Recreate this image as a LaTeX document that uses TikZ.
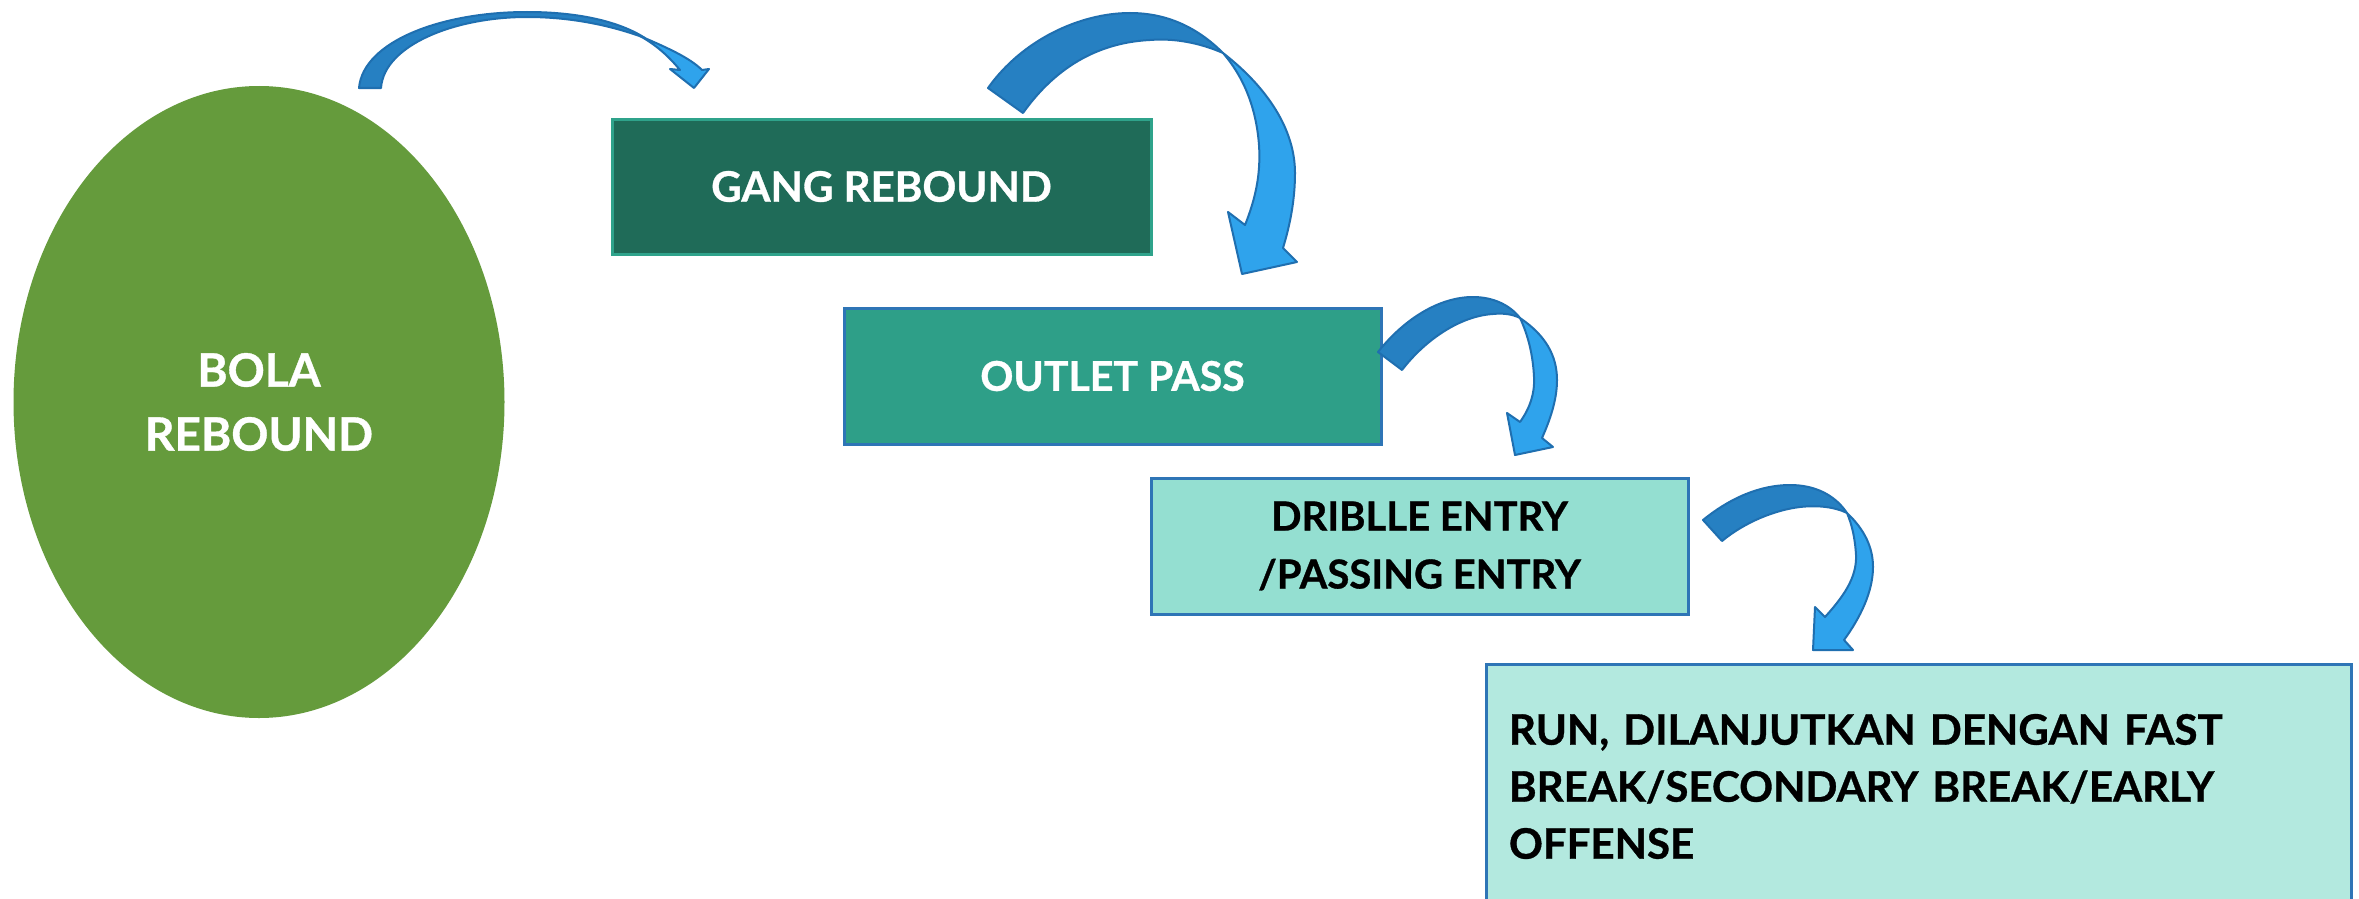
\documentclass[tikz,border=0pt]{standalone}
\usepackage{fontspec}
\setmainfont{Lato}[BoldFeatures={FakeBold=0.8}]
\usetikzlibrary{shapes.geometric}
\definecolor{ballgreen}{HTML}{659B3C}
\definecolor{gangfill}{HTML}{1F6B58}
\definecolor{gangborder}{HTML}{2FA38B}
\definecolor{outletfill}{HTML}{2E9F88}
\definecolor{boxblue}{HTML}{2E75B6}
\definecolor{dribfill}{HTML}{94DFD1}
\definecolor{runfill}{HTML}{B3E9DF}
\definecolor{arrdark}{HTML}{2680C2}
\definecolor{arrlight}{HTML}{2FA3EC}
\definecolor{arrline}{HTML}{1F6FB0}
\begin{document}
\begin{tikzpicture}[x=1pt,y=-1pt,
  stepbox/.style={rectangle, inner sep=0pt, line width=3pt, font=\fontsize{41}{58}\selectfont\bfseries, align=center},
  backband/.style={fill=arrdark, draw=arrline, line width=2pt, line join=round},
  frontband/.style={fill=arrlight, draw=arrline, line width=2pt, line join=round}]
\useasboundingbox (0,0) rectangle (2359,899);
\fill[white] (0,0) rectangle (2359,899);

\node[ellipse, fill=ballgreen, minimum width=491pt, minimum height=632pt, inner sep=0pt,
  text=white, align=center, font=\fontsize{46}{64}\selectfont\bfseries] (ball) at (259,402) {BOLA\\REBOUND};

\node[stepbox, fill=gangfill, draw=gangborder, text=white, minimum width=539pt, minimum height=135pt, font=\fontsize{42}{58}\selectfont\bfseries] (gang) at (881.5,186.5) {GANG REBOUND};
\node[stepbox, fill=outletfill, draw=boxblue, text=white, minimum width=537pt, minimum height=136pt] (outlet) at (1112.5,376) {OUTLET PASS};
\node[stepbox, fill=dribfill, draw=boxblue, text=black, minimum width=537pt, minimum height=136pt, font=\fontsize{40}{58}\selectfont\bfseries] (dribble) at (1419.5,546) {DRIBLLE ENTRY\\/PASSING ENTRY};
\node[stepbox, anchor=north west, fill=runfill, draw=boxblue, text=black, minimum width=865pt, minimum height=244pt,
  text width=820pt, align=left, font=\fontsize{42}{57}\selectfont\bfseries] (run) at (1485,663)
  {RUN, DILANJUTKAN DENGAN FAST\\BREAK/SECONDARY BREAK/EARLY\\OFFENSE};

% arrow 1: ball -> gang
\draw[backband] (359,88) .. controls (363,42) and (440,12) .. (527,12) .. controls (580,12) and (620,22) .. (645,38)
  .. controls (610,25) and (570,17) .. (527,17) .. controls (455,17) and (384,45) .. (381,88) -- cycle;
\draw[frontband] (640,36) .. controls (668,48) and (690,58) .. (702,70) -- (709,69) -- (694,88) -- (670,69) -- (680,70)
  .. controls (670,58) and (658,46) .. (640,36) -- cycle;

% arrow 2: gang -> outlet
\draw[backband] (988,88) .. controls (1022,40) and (1080,13) .. (1130,13) .. controls (1170,13) and (1200,30) .. (1223,53)
  .. controls (1200,43) and (1175,38) .. (1150,40) .. controls (1090,43) and (1050,75) .. (1023,113) -- cycle;
\draw[frontband] (1223,53) .. controls (1268,88) and (1295,130) .. (1295,173) .. controls (1295,200) and (1290,225) .. (1283,248)
  -- (1297,262) -- (1242,274) -- (1228,212) -- (1245,225)
  .. controls (1255,200) and (1261,175) .. (1259,145) .. controls (1256,105) and (1242,75) .. (1223,53) -- cycle;

% arrow 3: outlet -> dribble
\draw[backband] (1378,352) .. controls (1405,318) and (1440,297) .. (1473,297) .. controls (1493,297) and (1510,305) .. (1520,318)
  .. controls (1512,314) and (1503,313) .. (1493,314) .. controls (1460,316) and (1425,340) .. (1402,370) -- cycle;
\draw[frontband] (1520,318) .. controls (1545,335) and (1557,355) .. (1557,380) .. controls (1557,400) and (1550,420) .. (1542,438)
  -- (1553,447) -- (1515,455) -- (1507,413) -- (1520,422)
  .. controls (1530,408) and (1535,393) .. (1534,377) .. controls (1533,355) and (1528,335) .. (1520,318) -- cycle;

% arrow 4: dribble -> run
\draw[backband] (1703,520) .. controls (1730,498) and (1760,485) .. (1790,485) .. controls (1815,485) and (1835,495) .. (1847,513)
  .. controls (1835,507) and (1818,505) .. (1800,507) .. controls (1775,510) and (1745,522) .. (1722,541) -- cycle;
\draw[frontband] (1847,513) .. controls (1865,530) and (1873,548) .. (1873,567) .. controls (1873,592) and (1860,618) .. (1844,640)
  -- (1853,650) -- (1813,650) -- (1815,607) -- (1825,617)
  .. controls (1843,597) and (1857,578) .. (1856,555) .. controls (1855,538) and (1852,525) .. (1847,513) -- cycle;
\end{tikzpicture}
\end{document}
